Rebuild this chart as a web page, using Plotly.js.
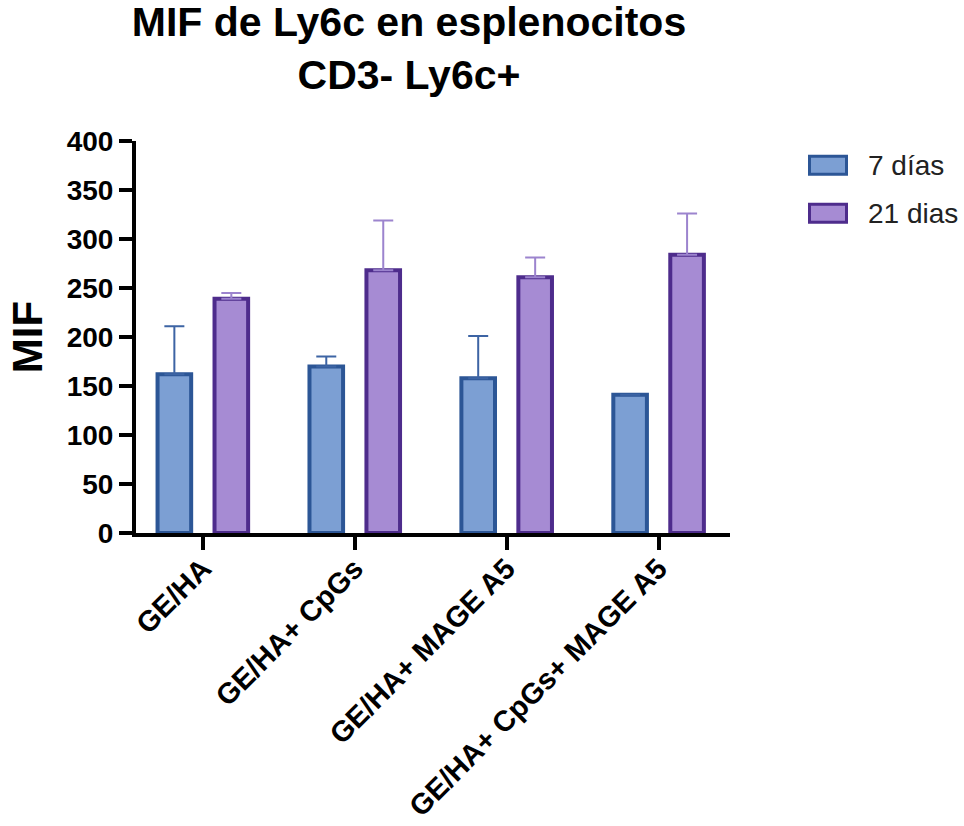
<!DOCTYPE html>
<html>
<head>
<meta charset="utf-8">
<script src="https://cdn.plot.ly/plotly-3.0.1.min.js"></script>
<style>html,body{margin:0;padding:0;background:#fff;}#chart{width:964px;height:826px;}</style>
</head>
<body>
<div id="chart"></div>
<script>
var categories = ["GE/HA", "GE/HA+ CpGs", "GE/HA+ MAGE A5", "GE/HA+ CpGs+ MAGE A5"];
var seriesNames = ["7 días", "21 dias"];
var mif7 = [162, 170, 158, 141];
var err7 = [49, 10, 43, null];
var mif21 = [239, 268, 261, 284];
var err21 = [6, 51, 20, 42];
var yTicks = [0, 50, 100, 150, 200, 250, 300, 350, 400];

var fill = ["#7C9FD3", "#A68BD3"];
var edge = ["#2C5696", "#4E2C8C"];
var errCol = ["#3D64A4", "#9C84CE"];

var W = 964, H = 826;
var L = 136, R = 730, T = 140.7, B = 533.5;
function px2paperX(px){ return (px - L) / (R - L); }
function px2paperY(py){ return (B - py) / (B - T); }

var traces = [
  {type:"bar", name:seriesNames[0], x:categories, y:mif7,
   marker:{color:fill[0], line:{color:edge[0], width:4}},
   error_y:{type:"data", array:err7, arrayminus:[0,0,0,0], symmetric:false, color:errCol[0], thickness:2, width:10},
   showlegend:false, hoverinfo:"x+y"},
  {type:"bar", name:seriesNames[1], x:categories, y:mif21,
   marker:{color:fill[1], line:{color:edge[1], width:4}},
   error_y:{type:"data", array:err21, arrayminus:[0,0,0,0], symmetric:false, color:errCol[1], thickness:2, width:10},
   showlegend:false, hoverinfo:"x+y"}
];

var font = "Liberation Sans, Arial, Helvetica, sans-serif";
var shapes = [], annotations = [];
var legY = [165, 213];
for (var i = 0; i < 2; i++) {
  shapes.push({type:"rect", xref:"paper", yref:"paper",
    x0:px2paperX(809.5), x1:px2paperX(846.5), y0:px2paperY(legY[i]-9), y1:px2paperY(legY[i]+9),
    fillcolor:fill[i], line:{color:edge[i], width:3}});
  annotations.push({xref:"paper", yref:"paper", x:px2paperX(866), y:px2paperY(legY[i]),
    xanchor:"left", yanchor:"middle", text:seriesNames[i], showarrow:false,
    font:{family:font, size:28, color:"#222"}});
}

var layout = {
  width:W, height:H,
  paper_bgcolor:"#fff", plot_bgcolor:"#fff",
  margin:{l:L, r:W-R, t:T, b:H-B, pad:0, autoexpand:false},
  showlegend:false,
  barmode:"group", bargap:0.25, bargroupgap:0.41,
  title:{text:"MIF de Ly6c en esplenocitos<br>CD3- Ly6c+", x:409/W, xref:"container", xanchor:"center",
         y:1-36/H, yref:"container", yanchor:"top",
         font:{family:font, size:41, weight:"bold", color:"#000"}},
  xaxis:{range:[-0.44, 3.47], showgrid:false, zeroline:false, showline:true, linecolor:"#000", linewidth:4,
         ticks:"outside", ticklen:13, tickwidth:4, tickcolor:"#000", tickangle:-45, automargin:false,
         ticklabelstandoff:-10,
         tickfont:{family:font, size:29, weight:"bold", color:"#000"}},
  yaxis:{range:[0, 400], tickvals:yTicks, showgrid:false, zeroline:false, showline:true, linecolor:"#000", linewidth:4,
         ticks:"outside", ticklen:13, tickwidth:4, tickcolor:"#000", automargin:false,
         tickfont:{family:font, size:28, weight:"bold", color:"#000"},
         title:{text:"MIF", standoff:12, font:{family:font, size:42, weight:"bold", color:"#000"}}},
  shapes:shapes, annotations:annotations
};

Plotly.newPlot("chart", traces, layout, {displayModeBar:false, staticPlot:true});
</script>
</body>
</html>
